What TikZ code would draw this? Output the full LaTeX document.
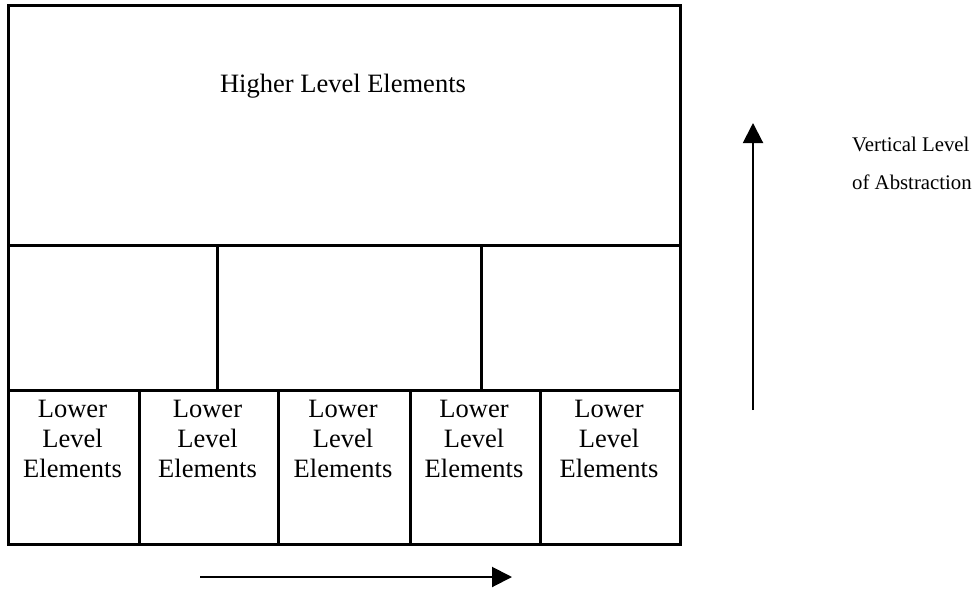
\documentclass[tikz,border=0pt]{standalone}
\usepackage{fontspec}
\setmainfont{Liberation Serif}
\usetikzlibrary{arrows.meta}

\tikzset{
  cell/.style={draw, line width=2.6pt, inner sep=0pt, anchor=north west},
  bigtext/.style={inner sep=0pt, font=\fontsize{26.5}{30.5}\selectfont},
  lowtext/.style={inner sep=0pt, anchor=north, align=center, font=\fontsize{26.5}{30}\selectfont},
  smalltext/.style={inner sep=0pt, anchor=base west, font=\fontsize{20.8}{24}\selectfont},
  axis/.style={line width=2pt, -{Triangle[length=20pt,width=20pt]}}
}

\begin{document}
\begin{tikzpicture}[x=1pt, y=-1pt]
  \useasboundingbox (0,0) rectangle (979,589);

  % top band
  \node[cell, minimum width=672pt, minimum height=240pt] (high) at (7,4) {};
  \node[bigtext, anchor=base] (hightxt) at (343,92) {Higher Level Elements};

  % middle band
  \node[cell, minimum width=209pt, minimum height=145pt] (m1) at (7,244) {};
  \node[cell, minimum width=264pt, minimum height=145pt] (m2) at (216,244) {};
  \node[cell, minimum width=199pt, minimum height=145pt] (m3) at (480,244) {};

  % bottom band
  \node[cell, minimum width=131pt, minimum height=154pt] (l1) at (7,389) {};
  \node[cell, minimum width=139pt, minimum height=154pt] (l2) at (138,389) {};
  \node[cell, minimum width=132pt, minimum height=154pt] (l3) at (277,389) {};
  \node[cell, minimum width=130pt, minimum height=154pt] (l4) at (409,389) {};
  \node[cell, minimum width=140pt, minimum height=154pt] (l5) at (539,389) {};

  \foreach \n/\x in {1/72.5, 2/207.5, 3/343, 4/474, 5/609}
    \node[lowtext] (lt\n) at (\x,399.5) {Lower\\Level\\Elements};

  % axis arrows
  \coordinate (vbot) at (753,410);
  \coordinate (vtop) at (753,123);
  \draw[axis] (vbot) -- (vtop);

  \coordinate (hl) at (200,577);
  \coordinate (hr) at (512,577);
  \draw[axis] (hl) -- (hr);

  \node[smalltext] (vl1) at (852,151) {Vertical Level};
  \node[smalltext] (vl2) at (852,189) {of Abstraction};
\end{tikzpicture}
\end{document}
